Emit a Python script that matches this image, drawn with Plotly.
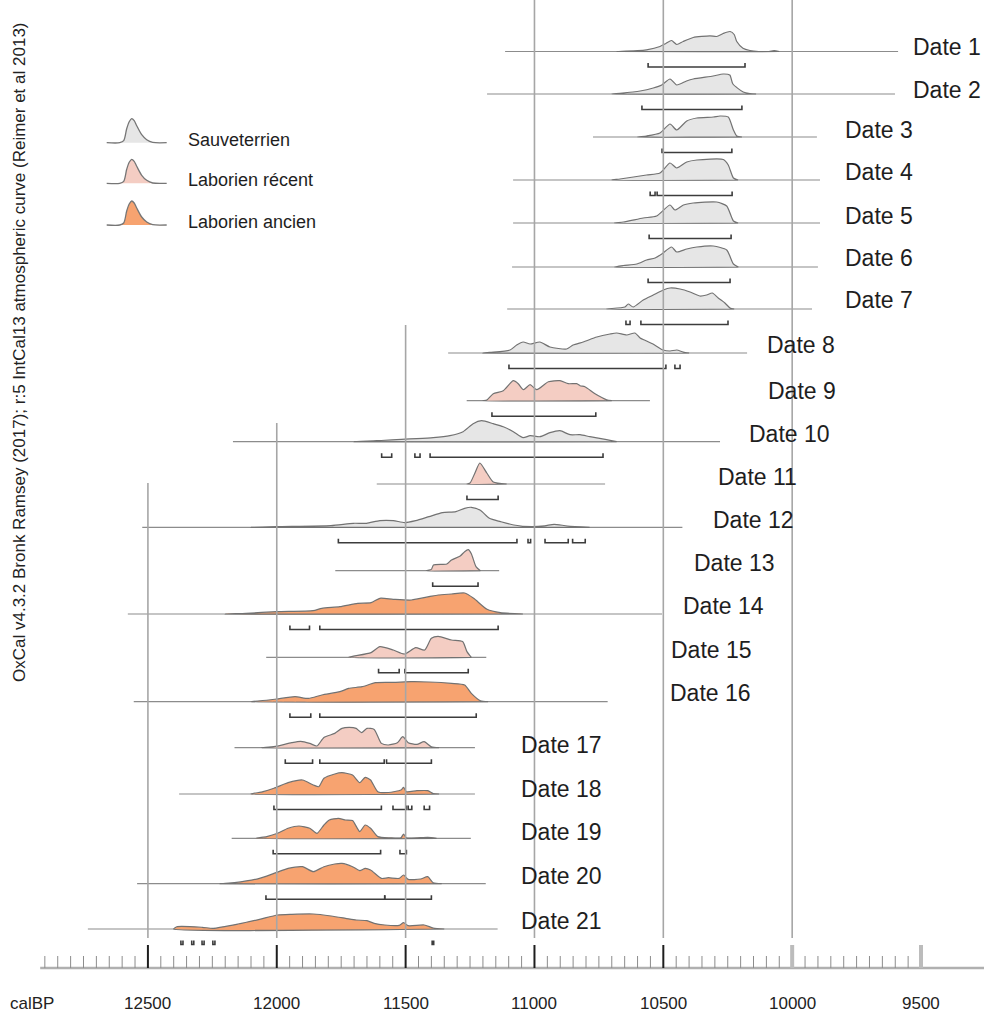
import plotly.graph_objects as go
import numpy as np

# OxCal multiplot: calibrated 14C dates (calBP), likelihood curves + 95% ranges
dates = [f"Date {i}" for i in range(1, 22)]
culture = ["S", "S", "S", "S", "S", "S", "S", "S", "LR", "S", "LR", "S", "LR",
           "LA", "LR", "LA", "LR", "LA", "LA", "LA", "LA"]

# extent of the thin baseline drawn under each curve (calBP)
span_old = [11114, 11184, 10773, 11083, 11083, 11087, 11106, 11335, 11263, 12170, 11612,
            12522, 11773, 12578, 12041, 12555, 12164, 12379, 12175, 12542, 12733]
span_young = [9589, 9601, 9904, 9892, 9892, 9900, 9923, 10175, 10552, 10280, 10726,
              10426, 11137, 10505, 11187, 10716, 11231, 11231, 11247, 11189, 11143]

# probability curves (years calBP, relative probability, peak ~21)
prob_years = [
    [10680, 10600, 10565, 10513, 10490, 10468, 10448, 10423, 10384, 10319, 10293, 10268, 10241, 10225, 10215, 10191, 10164, 10130, 10090, 10070, 10050],
    [10700, 10668, 10590, 10539, 10506, 10474, 10448, 10410, 10384, 10307, 10268, 10242, 10230, 10190, 10164, 10140],
    [10600, 10565, 10513, 10474, 10448, 10409, 10370, 10306, 10280, 10248, 10228, 10215, 10195],
    [10700, 10668, 10565, 10513, 10474, 10448, 10409, 10370, 10267, 10248, 10228, 10210],
    [10690, 10655, 10578, 10526, 10474, 10455, 10422, 10384, 10293, 10254, 10228, 10210],
    [10690, 10655, 10603, 10565, 10532, 10506, 10468, 10448, 10409, 10370, 10306, 10254, 10228, 10209],
    [10720, 10649, 10636, 10617, 10578, 10539, 10500, 10474, 10435, 10396, 10358, 10332, 10310, 10287, 10261, 10241, 10225],
    [11200, 11173, 11095, 11069, 11044, 11017, 10979, 10940, 10875, 10850, 10811, 10758, 10707, 10681, 10642, 10610, 10590, 10565, 10540, 10501, 10474, 10448, 10423, 10400],
    [11200, 11185, 11160, 11121, 11082, 11063, 11043, 11017, 10991, 10946, 10901, 10869, 10836, 10823, 10804, 10765, 10720, 10700],
    [11700, 11612, 11393, 11328, 11277, 11238, 11205, 11160, 11121, 11082, 11044, 11017, 10979, 10940, 10901, 10862, 10823, 10785, 10720, 10681],
    [11262, 11250, 11231, 11212, 11185, 11160, 11108],
    [12100, 12000, 11790, 11703, 11652, 11600, 11548, 11504, 11461, 11409, 11357, 11305, 11271, 11245, 11210, 11175, 11132, 11080, 11011, 10960, 10924, 10872, 10786],
    [11420, 11400, 11392, 11340, 11322, 11288, 11271, 11257, 11245, 11227, 11210],
    [12200, 12119, 12000, 11859, 11825, 11755, 11686, 11634, 11600, 11548, 11478, 11409, 11374, 11322, 11271, 11236, 11184, 11132, 11045],
    [11721, 11634, 11600, 11548, 11504, 11461, 11426, 11400, 11374, 11322, 11279, 11262, 11245],
    [12100, 12032, 12000, 11929, 11877, 11825, 11755, 11721, 11669, 11617, 11548, 11478, 11409, 11322, 11271, 11245, 11210, 11180],
    [12060, 12011, 11942, 11907, 11872, 11844, 11817, 11775, 11747, 11719, 11692, 11671, 11650, 11622, 11594, 11567, 11532, 11511, 11490, 11456, 11428, 11400, 11370],
    [12100, 12053, 12011, 11956, 11900, 11858, 11837, 11817, 11775, 11747, 11706, 11678, 11657, 11636, 11608, 11567, 11518, 11508, 11497, 11456, 11414, 11393, 11370],
    [12080, 12039, 11997, 11956, 11914, 11872, 11844, 11817, 11796, 11761, 11733, 11706, 11678, 11657, 11636, 11608, 11560, 11518, 11508, 11497, 11414, 11380],
    [12220, 12164, 12067, 12011, 11956, 11900, 11858, 11817, 11775, 11747, 11706, 11678, 11657, 11636, 11594, 11567, 11525, 11508, 11490, 11442, 11414, 11393, 11360],
    [12400, 12386, 12289, 12247, 12150, 12067, 11997, 11942, 11858, 11789, 11733, 11692, 11650, 11622, 11581, 11525, 11508, 11490, 11428, 11393, 11350],
]
prob_dens = [
    [0, 0.8, 1.7, 5, 8, 11, 7, 10, 14, 15.7, 15, 18, 20, 17, 10, 3.3, 1, 0, 0, 0.8, 0],
    [0, 0.7, 3, 6, 9, 15, 9, 13, 15, 18, 20, 19, 10, 2, 0.5, 0],
    [0, 1, 4, 13, 7, 16, 19, 20, 21, 20, 7, 1, 0],
    [0, 1, 5, 7, 17, 12, 18, 20, 20.5, 15, 2, 0],
    [0, 1, 5, 7, 18, 13, 18, 20, 21, 17, 2, 0],
    [0, 1.5, 3, 7, 9, 13, 20, 15, 18, 20, 21, 17, 3, 0],
    [0, 2, 5, 2, 9, 14, 19, 21, 20, 17, 13, 14, 16, 11, 6, 1, 0],
    [0, 0.7, 3, 8, 11, 9, 11, 6, 4, 8, 11, 16, 19, 20, 18, 20, 15, 12, 9, 3, 2, 3, 1, 0],
    [0, 0.7, 7, 10, 20, 17, 11, 16, 11, 19, 20, 17, 17, 15, 14, 7, 1, 0],
    [0, 1, 4, 6, 10, 18, 21, 18, 15, 10, 4, 6, 5, 9, 11, 7, 7, 5, 2, 0],
    [0, 1, 11, 21, 11, 2, 0],
    [0, 0.7, 1.7, 4, 4, 6.7, 6.7, 4.7, 6.7, 10.7, 14.7, 15.7, 19, 20, 17, 9, 5.7, 2.3, 0.7, 1.5, 3, 1.3, 0],
    [0, 1.3, 5.7, 6.7, 10.7, 14.7, 19, 21, 17, 4, 0],
    [0, 0.7, 2.3, 3.3, 5.7, 7.3, 10.7, 11.3, 15.7, 14.7, 14, 17.3, 19, 20, 21, 15.7, 4.7, 1.3, 0],
    [0, 4.7, 10.7, 7.3, 3.3, 9.7, 7.3, 19, 21, 17.3, 15.7, 5.7, 0],
    [0, 1.7, 2.7, 5, 3.3, 6.7, 10, 13.3, 15, 19, 19.3, 20, 19.7, 18.3, 16.7, 8.3, 1, 0],
    [0, 1, 5, 6.3, 4.3, 1.7, 10.3, 14.3, 19.3, 20.3, 19.3, 15, 19.3, 18.3, 4.3, 2.7, 5, 11, 5, 3.3, 6, 1, 0],
    [0, 2.3, 5.7, 11.3, 14, 9, 7.3, 15.7, 20, 21.3, 19, 11.3, 16.7, 14, 2.3, 1.5, 4, 6.7, 2.3, 3.3, 3.3, 0.5, 0],
    [0, 1.7, 5, 10, 12.3, 10, 5, 13.3, 18.3, 20, 18.3, 17.7, 6.7, 13.3, 10, 1.7, 0.5, 0.5, 4.3, 0.5, 1, 0],
    [0, 1, 5.3, 10.3, 15.3, 17, 12, 17, 19.7, 20.3, 17, 13, 15.3, 13.7, 5.3, 6, 5.3, 8.7, 4.3, 4.7, 7, 1, 0],
    [0, 2.3, 1.7, 0.7, 5, 9.7, 14, 14.7, 15, 13, 10.7, 9, 8.3, 5.7, 4, 3.7, 6.3, 3.3, 4, 1, 0],
]

# 95.4% probability ranges (from, to) calBP
hpd_ranges = [
    [(10559, 10183)],
    [(10583, 10195)],
    [(10505, 10234)],
    [(10551, 10532), (10524, 10233)],
    [(10555, 10237)],
    [(10559, 10241)],
    [(10645, 10629), (10587, 10249)],
    [(11099, 10490), (10455, 10435)],
    [(11165, 10762)],
    [(11593, 11554), (11464, 11444), (11405, 10734)],
    [(11262, 11141)],
    [(11761, 11068), (11025, 11015), (10959, 10869), (10852, 10803)],
    [(11395, 11219)],
    [(11949, 11873), (11833, 11141)],
    [(11605, 11525), (11503, 11257)],
    [(11949, 11868), (11833, 11226)],
    [(11967, 11861), (11833, 11583), (11574, 11400)],
    [(12011, 11594), (11549, 11497), (11490, 11476), (11428, 11407)],
    [(12014, 11597), (11522, 11497)],
    [(12042, 11581), (11581, 11400)],
    [(12372, 12364), (12330, 12322), (12290, 12282), (12248, 12240), (11397, 11391)],
]

legend_labels = ["Sauveterrien", "Laborien récent", "Laborien ancien"]
legend_keys = ["S", "LR", "LA"]
fills = {"S": "#e6e6e6", "LR": "#f4cdc3", "LA": "#f7a370"}

major_ticks = [12500, 12000, 11500, 11000, 10500, 10000, 9500]

# ---- layout helpers (page pixel positions, not data) ----
W, H = 984, 1017
PX_YR = 3.8805  # years per pixel
X_RANGE = [13074, 13074 - W * PX_YR]
row_y = [51.5, 94, 137, 180, 223, 267, 309, 353, 400.7, 441.7, 484, 527.3, 570.7,
         614, 657.3, 701.7, 747.7, 794, 838.3, 883.7, 929]
label_x = [911, 911, 843, 843, 843, 843, 843, 765, 766, 747, 716, 711, 692, 681, 669,
           668, 519, 519, 519, 519, 519]
label_y = [47, 90, 130, 172, 216, 258, 300, 345, 391, 434, 477, 520, 563, 606, 650,
           693, 745, 789, 832, 876, 921]
grid_top = {12500: 483, 12000: 423, 11500: 325, 11000: 0, 10500: 0, 10000: 0}
AXIS_Y = 968

fig = go.Figure()

# curves
for i, name in enumerate(dates):
    base = row_y[i]
    fig.add_trace(go.Scatter(
        x=[span_old[i], span_young[i]], y=[base, base], mode="lines",
        line=dict(color="#8c8c8c", width=1.2), hoverinfo="skip", showlegend=False))
    yrs = np.array(prob_years[i], dtype=float)
    ps = np.array(prob_dens[i], dtype=float)
    fig.add_trace(go.Scatter(
        x=np.concatenate([yrs, [yrs[-1], yrs[0]]]),
        y=np.concatenate([base - ps, [base, base]]),
        mode="lines", fill="toself", fillcolor=fills[culture[i]],
        line=dict(color="#727272", width=1.2, shape="spline", smoothing=0.6),
        name=name, hoverinfo="name", showlegend=False))
    # range brackets
    bx, by = [], []
    yb = base + 15.5
    for a, b in hpd_ranges[i]:
        bx += [a, a, b, b, None]
        by += [yb - 4, yb, yb, yb - 4, None]
    fig.add_trace(go.Scatter(
        x=bx, y=by, mode="lines", line=dict(color="#3c3c3c", width=1.6),
        hoverinfo="skip", showlegend=False))

# vertical grid lines
gx, gy = [], []
for yr, top in grid_top.items():
    gx += [yr, yr, None]
    gy += [top, 938, None]
fig.add_trace(go.Scatter(x=gx, y=gy, mode="lines", line=dict(color="#a6a6a6", width=1.6),
                         hoverinfo="skip", showlegend=False))

# axis line and ticks
fig.add_trace(go.Scatter(x=[12918, X_RANGE[1]], y=[AXIS_Y, AXIS_Y], mode="lines",
                         line=dict(color="#b0b0b0", width=2.5), hoverinfo="skip", showlegend=False))
mx, my = [], []
for yr in np.arange(12900, 9500, -50):
    if yr % 500:
        mx += [yr, yr, None]
        my += [956, AXIS_Y, None]
fig.add_trace(go.Scatter(x=mx, y=my, mode="lines", line=dict(color="#8c8c8c", width=1),
                         hoverinfo="skip", showlegend=False))
kx, ky, lx, ly = [], [], [], []
for yr in major_ticks:
    if yr >= 10500:
        kx += [yr, yr, None]
        ky += [945, AXIS_Y, None]
    else:
        lx += [yr, yr, None]
        ly += [945, AXIS_Y, None]
fig.add_trace(go.Scatter(x=kx, y=ky, mode="lines", line=dict(color="#1e1e1e", width=2),
                         hoverinfo="skip", showlegend=False))
fig.add_trace(go.Scatter(x=lx, y=ly, mode="lines", line=dict(color="#bcbcbc", width=4),
                         hoverinfo="skip", showlegend=False))

sans = "Liberation Sans, Arial, sans-serif"
for yr in major_ticks:
    fig.add_annotation(x=yr, y=1003, xref="x", yref="y", text=str(yr), showarrow=False,
                       font=dict(family=sans, size=17, color="#222"))
fig.add_annotation(x=32, y=1003, xref="x2", yref="y", text="calBP", showarrow=False,
                   font=dict(family=sans, size=17, color="#222"))

# date labels
for i, name in enumerate(dates):
    fig.add_annotation(x=label_x[i], y=label_y[i], xref="x2", yref="y", text=name,
                       showarrow=False, xanchor="left", yanchor="middle",
                       font=dict(family=sans, size=23, color="#1e1e1e"))

# legend: small curve icons + text
icon_dx = [-25, -12, -8, -5, -2.5, 0, 2.5, 5, 10, 15, 21, 35]
icon_h = [0, 0, 2, 14, 21, 24, 22, 17, 8, 3, 0.3, 0]
legend_base = [142.7, 183.3, 225]
for k, lab in enumerate(legend_labels):
    cx = 131.7
    xs = [cx + d for d in icon_dx]
    ys = [legend_base[k] - h for h in icon_h]
    fig.add_trace(go.Scatter(x=xs, y=ys, xaxis="x2", yaxis="y", mode="lines",
                             fill="toself", fillcolor=fills[legend_keys[k]],
                             line=dict(color="#767676", width=1.3, shape="spline", smoothing=0.8),
                             hoverinfo="skip", showlegend=False))
    fig.add_annotation(x=186, y=legend_base[k] - 3, xref="x2", yref="y", text=lab,
                       showarrow=False, xanchor="left", yanchor="middle",
                       font=dict(family=sans, size=18, color="#1e1e1e"))

fig.add_annotation(x=19, y=352, xref="x2", yref="y", textangle=-90,
                   text="OxCal v4.3.2 Bronk Ramsey (2017); r:5 IntCal13 atmospheric curve (Reimer et al 2013)",
                   showarrow=False, font=dict(family=sans, size=17, color="#222"))

fig.update_layout(
    width=W, height=H, margin=dict(l=0, r=0, t=0, b=0),
    paper_bgcolor="white", plot_bgcolor="white", showlegend=False,
    xaxis=dict(range=X_RANGE, visible=False, fixedrange=True),
    xaxis2=dict(range=[0, W], overlaying="x", visible=False, fixedrange=True),
    yaxis=dict(range=[H, 0], visible=False, fixedrange=True),
)

# drop the default page margin so the figure fills the window exactly
fig.write_html("out.html", config={"displayModeBar": False}, post_script=(
    "document.body.style.margin='0';"
    "document.documentElement.style.overflow='hidden';"
    "document.body.style.overflow='hidden';"))
